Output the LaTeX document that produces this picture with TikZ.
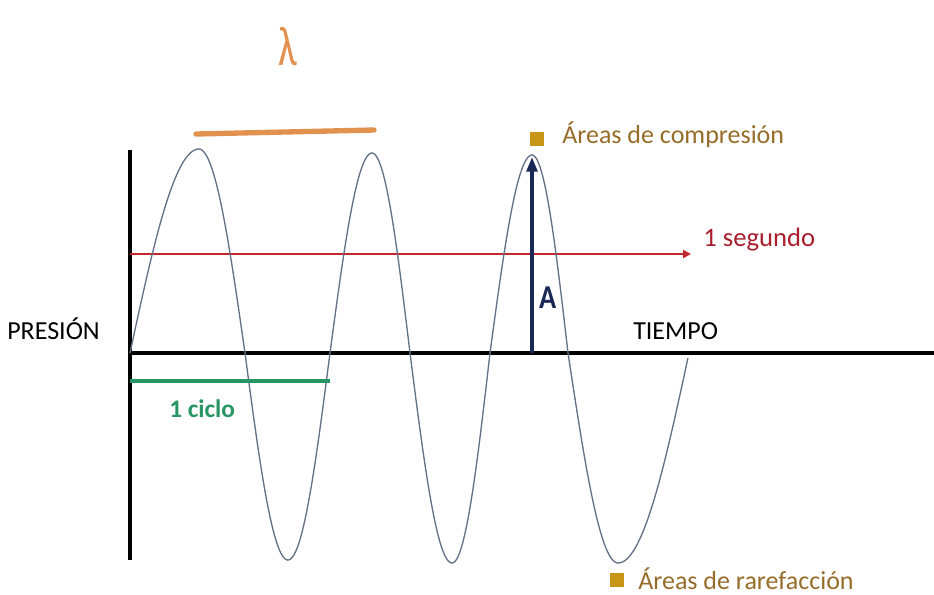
\documentclass[tikz,border=0pt]{standalone}
\usepackage{fontspec}
\setmainfont{Carlito}
\usetikzlibrary{arrows.meta}
\definecolor{wavec}{RGB}{100,114,135}
\definecolor{redl}{RGB}{195,38,45}
\definecolor{redt}{RGB}{168,30,45}
\definecolor{navyc}{RGB}{25,40,85}
\definecolor{gold}{RGB}{200,150,22}
\definecolor{brownt}{RGB}{150,108,40}
\definecolor{greenc}{RGB}{40,150,100}
\definecolor{orangec}{RGB}{226,146,78}
\tikzset{
  axis/.style={line width=3pt,black},
  wave/.style={line width=1pt,wavec},
  lbl/.style={inner sep=0pt,anchor=base west,font=\fontsize{19.5}{22}\selectfont},
  sq/.style={fill=gold,minimum size=10pt,inner sep=0pt},
}
\begin{document}
\begin{tikzpicture}[x=0.75pt,y=-0.75pt]
\useasboundingbox (0,0) rectangle (934,594);
% axes
\coordinate (ytop) at (130,150);
\coordinate (ybot) at (130,560);
\coordinate (o) at (130,353);
\coordinate (xend) at (934,353);
\draw[axis] (ytop) -- (ybot);
\draw[axis] (o) -- (xend);
% red line
\coordinate (r0) at (130,254);
\coordinate (r1) at (691,254);
\draw[redl,line width=2.2pt,-{Triangle[length=6pt,width=6pt]}] (r0) -- (r1);
% wave
\foreach \a/\m/\b/\amp in {130/199/245/204, 245/288/330/-207, 330/372/410/200, 410/452/490/-210, 490/532/568/198}{
  \draw[wave] plot[domain=0:90,samples=30,variable=\t] ({\a+(\m-\a)*\t/90},{353-\amp*sin(\t)})
    -- plot[domain=0:90,samples=30,variable=\t] ({\m+(\b-\m)*\t/90},{353-\amp*cos(\t)});
}
\draw[wave] plot[domain=0:90,samples=30,variable=\t] ({568+(618-568)*\t/90},{353+210*sin(\t)})
    -- plot[domain=0:88.6,samples=30,variable=\t] ({618+(689-618)*\t/90},{353+210*cos(\t)});
% amplitude arrow
\coordinate (a0) at (532,353);
\coordinate (a1) at (532,157);
\draw[navyc,line width=3pt,-{Triangle[length=11pt,width=8pt]}] (a0) -- (a1);
\node[lbl,navyc,font=\bfseries\fontsize{25}{28}\selectfont,xscale=0.85] (A) at (539,308) {A};
% green cycle line
\coordinate (g0) at (130,381);
\coordinate (g1) at (330,381);
\draw[greenc,line width=3pt] (g0) -- (g1);
\node[lbl,greenc,font=\bfseries\fontsize{19}{22}\selectfont] (ciclo) at (169,417) {1 ciclo};
% lambda line
\coordinate (l0) at (196,134);
\coordinate (l1) at (374,130);
\draw[orangec,line width=4pt,line cap=round] (l0) -- (l1);
\node[orangec,inner sep=0pt,font=\fontsize{42}{46}\selectfont,xscale=0.72] (lam) at (288,47) {λ};
% labels
\node[lbl] (pres) at (7,339) {PRESIÓN};
\node[lbl] (tiempo) at (633,339) {TIEMPO};
\node[lbl,redt,font=\fontsize{20}{24}\selectfont] (seg) at (703,246) {1 segundo};
\node[sq] (sq1) at (537,139) {};
\node[lbl,brownt] (comp) at (562,143) {Áreas de compresión};
\node[sq] (sq2) at (617,580) {};
\node[lbl,brownt] (rare) at (638,589) {Áreas de rarefacción};
\end{tikzpicture}
\end{document}
